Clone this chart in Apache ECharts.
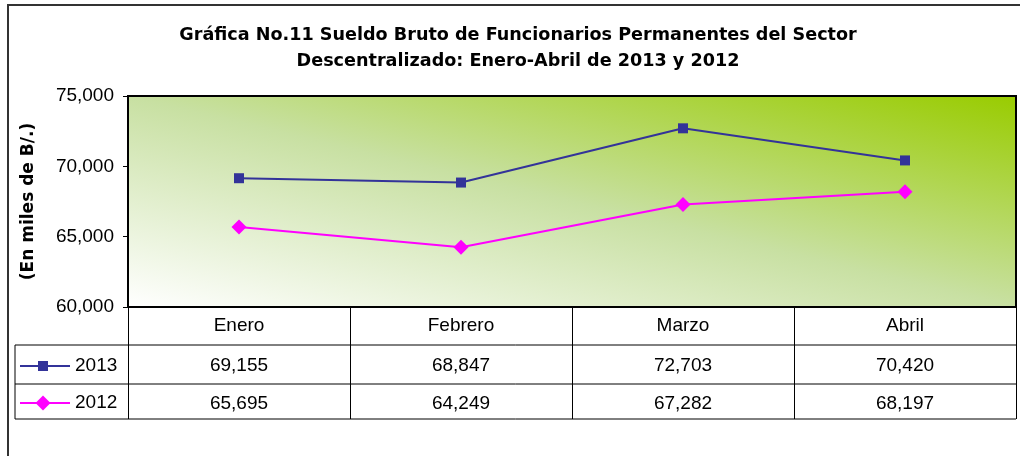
<!DOCTYPE html>
<html><head><meta charset="utf-8">
<script src="https://cdn.jsdelivr.net/npm/echarts@6/dist/echarts.min.js"></script>
<style>html,body{margin:0;padding:0;background:#fff}#c{width:1020px;height:456px}</style>
</head><body><div id="c"></div>
<script>
const categories = ['Enero', 'Febrero', 'Marzo', 'Abril'];
const s2013 = [69155, 68847, 72703, 70420];
const s2012 = [65695, 64249, 67282, 68197];
const seriesNames = ['2013', '2012'];
const yTicks = { min: 60000, max: 75000, interval: 5000 };
const titleLines = ['Gráfica No.11 Sueldo Bruto de Funcionarios Permanentes del Sector', 'Descentralizado: Enero-Abril de 2013 y 2012'];
const yName = '(En miles de B/.)';

const fmt = v => Number(v).toLocaleString('en-US');
const FONT = '"Liberation Sans", Arial, sans-serif';
const BFONT = '"DejaVu Sans", "Liberation Sans", sans-serif';
const COLORS = ['#333399', '#ff00ff'];
const chart = echarts.init(document.getElementById('c'));

function valueAxis(offset, values) {
  return {
    type: 'category', data: categories, position: 'bottom', offset: offset,
    axisLine: { show: false }, axisTick: { show: false },
    axisLabel: { interval: 0, margin: 0, verticalAlign: 'middle', color: '#000', fontSize: 19, fontFamily: FONT,
      formatter: (v, i) => fmt(values[i]) }
  };
}

// plot box (px) for a diagonal gradient whose bands run from top-left to bottom-right
const box = { x0: 128, y0: 96, x1: 1016, y1: 307 };
const cx = (box.x0 + box.x1) / 2, cy = (box.y0 + box.y1) / 2;
const w = box.x1 - box.x0, h = box.y1 - box.y0;
const len = Math.hypot(w, h);
const dx = h / len, dy = -w / len;
const ext = Math.abs((box.x0 - cx) * dx + (box.y1 - cy) * dy);
const grad = new echarts.graphic.LinearGradient(cx - ext * dx, cy - ext * dy, cx + ext * dx, cy + ext * dy, [
  { offset: 0, color: '#ffffff' },
  { offset: 0.5, color: '#c8e0a2' },
  { offset: 1, color: '#99cc00' }
], true);

const legendGraphics = [];
const rowY = [366, 403];
seriesNames.forEach((n, i) => {
  const y = rowY[i];
  legendGraphics.push({ type: 'line', shape: { x1: 20, y1: y, x2: 70, y2: y }, style: { stroke: COLORS[i], lineWidth: 2 } });
  if (i === 0) {
    legendGraphics.push({ type: 'rect', shape: { x: 38, y: y - 5, width: 10, height: 10 }, style: { fill: COLORS[i] } });
  } else {
    legendGraphics.push({ type: 'polygon', shape: { points: [[43, y - 7.5], [50.5, y], [43, y + 7.5], [35.5, y]] }, style: { fill: COLORS[i] } });
  }
  legendGraphics.push({ type: 'text', x: 75, y: y, style: { text: n, fontSize: 19, fontFamily: FONT, fill: '#000', verticalAlign: 'middle' } });
});

chart.setOption({
  animation: false,
  title: {
    text: titleLines.join('\n'), left: 513, top: 17, textAlign: 'center',
    textStyle: { fontSize: 17.6, fontWeight: 'bold', fontFamily: BFONT, color: '#000', lineHeight: 26 }
  },
  grid: {
    left: box.x0, top: box.y0, right: 1020 - box.x1, bottom: 456 - box.y1, show: true,
    borderColor: '#000', borderWidth: 2,
    backgroundColor: grad
  },
  xAxis: [
    {
      type: 'category', data: categories, boundaryGap: true,
      axisLine: { show: true, lineStyle: { color: '#000', width: 2 } },
      axisTick: { show: true, interval: 0, length: 112, lineStyle: { color: '#000', width: 1 } },
      axisLabel: { interval: 0, margin: 19, verticalAlign: 'middle', color: '#000', fontSize: 19, fontFamily: FONT }
    },
    valueAxis(59, s2013),
    valueAxis(97, s2012)
  ],
  yAxis: {
    type: 'value', min: yTicks.min, max: yTicks.max, interval: yTicks.interval,
    name: yName, nameLocation: 'middle', nameGap: 91, nameRotate: 90,
    nameTextStyle: { fontSize: 17, fontWeight: 'bold', fontFamily: BFONT, color: '#000' },
    axisLine: { show: true, lineStyle: { color: '#000', width: 2 } },
    axisTick: { show: true, inside: false, length: 5, lineStyle: { color: '#000' } },
    axisLabel: { margin: 14, color: '#000', fontSize: 19, fontFamily: FONT, formatter: v => fmt(v) },
    splitLine: { show: false }
  },
  series: [
    { name: seriesNames[0], type: 'line', data: s2013, symbol: 'rect', symbolSize: 10,
      lineStyle: { color: COLORS[0], width: 2 }, itemStyle: { color: COLORS[0] } },
    { name: seriesNames[1], type: 'line', data: s2012, symbol: 'diamond', symbolSize: 15,
      lineStyle: { color: COLORS[1], width: 2 }, itemStyle: { color: COLORS[1] } }
  ],
  graphic: [
    { type: 'rect', shape: { x: 8, y: 5, width: 1040, height: 480 }, style: { fill: 'none', stroke: '#333', lineWidth: 2 }, silent: true },
    { type: 'line', shape: { x1: 15, y1: 345, x2: 1016, y2: 345 }, style: { stroke: '#000', lineWidth: 1 } },
    { type: 'line', shape: { x1: 15, y1: 384, x2: 1016, y2: 384 }, style: { stroke: '#000', lineWidth: 1 } },
    { type: 'line', shape: { x1: 15, y1: 419, x2: 1016, y2: 419 }, style: { stroke: '#000', lineWidth: 1 } },
    { type: 'line', shape: { x1: 15, y1: 345, x2: 15, y2: 419 }, style: { stroke: '#000', lineWidth: 1 } }
  ].concat(legendGraphics)
});
</script></body></html>
